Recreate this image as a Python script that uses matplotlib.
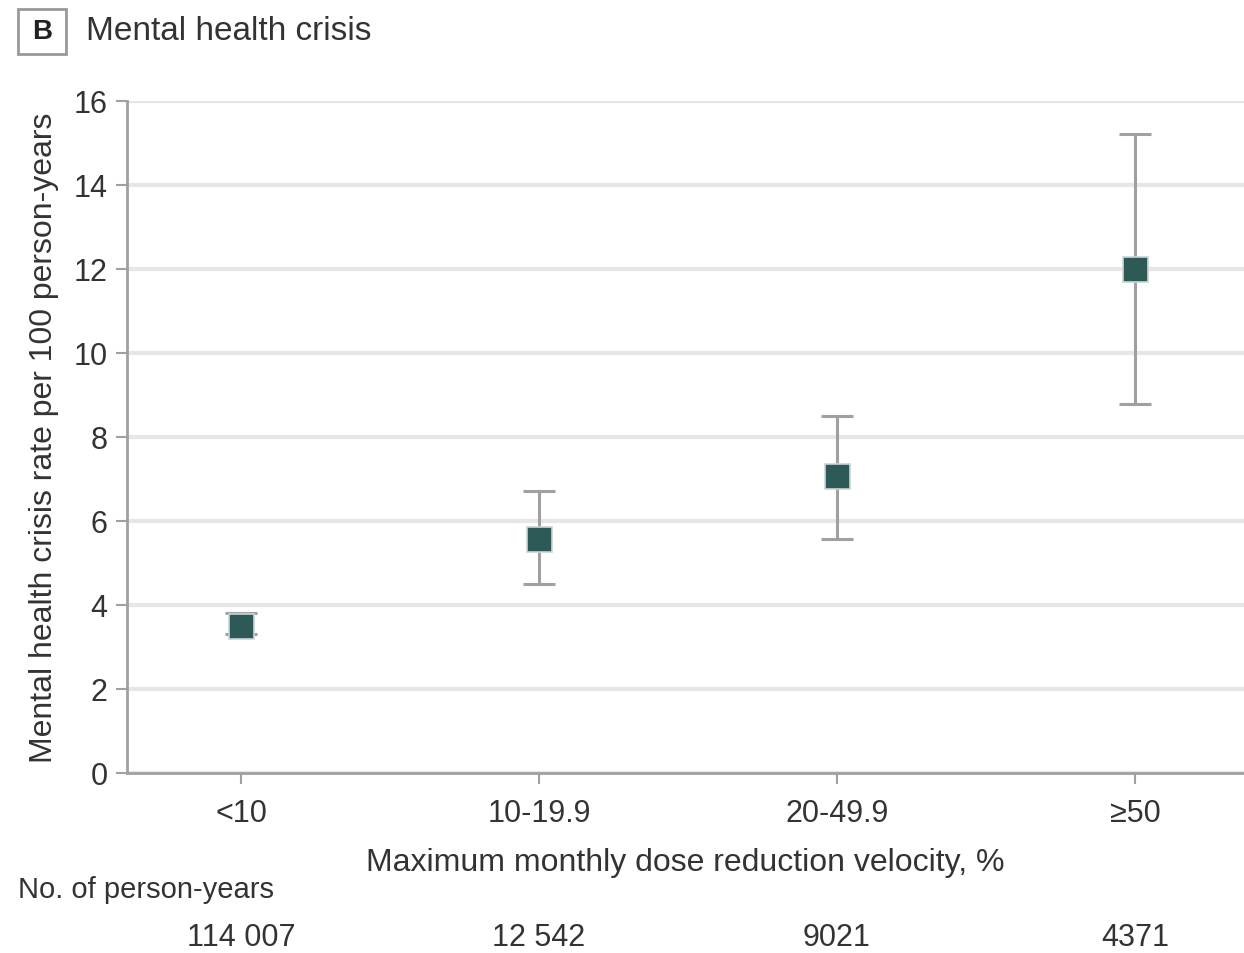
import numpy as np
import matplotlib.pyplot as plt
from matplotlib.patches import Rectangle

plt.rcParams['font.family'] = ['Liberation Sans Narrow', 'Liberation Sans', 'DejaVu Sans']

# data
categories = ['<10', '10-19.9', '20-49.9', '≥50']
rate = [3.5, 5.57, 7.07, 12.0]
ci_low = [3.3, 4.5, 5.57, 8.79]
ci_high = [3.8, 6.71, 8.5, 15.21]
person_years = ['114 007', '12 542', '9021', '4371']

box_col = '#2d5a56'
grid_col = '#e6e6e6'
axis_col = '#a0a0a0'
text_col = '#333333'

fig = plt.figure(figsize=(12.44, 9.54), dpi=100)
ax = fig.add_axes([0.102, 0.1887, 0.898, 0.7044])

x = np.arange(len(categories))
rate = np.array(rate)
err = [rate - np.array(ci_low), np.array(ci_high) - rate]
ax.errorbar(x, rate, yerr=err, fmt='none', ecolor='#a0a0a0', elinewidth=2.2,
            capsize=11.5, capthick=2.2, zorder=3)
ax.plot(x, rate, 's', ms=18, color=box_col, mec='#c8d6d4', mew=1.2, zorder=4)

ax.set_xlim(-0.383, 3.366)
ax.set_ylim(0, 16)
ax.set_yticks(np.arange(0, 17, 2))
ax.set_xticks(x)
ax.set_xticklabels(categories)
ax.yaxis.grid(True, color=grid_col, lw=3)
ax.set_axisbelow(True)
for s in ['top', 'right']:
    ax.spines[s].set_visible(False)
for s in ['left', 'bottom']:
    ax.spines[s].set_color(axis_col)
    ax.spines[s].set_linewidth(2)
ax.tick_params(axis='both', colors=axis_col, width=1.5, length=8,
               labelsize=22, labelcolor=text_col, pad=6)
ax.tick_params(axis='x', pad=10)

ax.set_ylabel('Mental health crisis rate per 100 person-years', fontsize=23,
              color=text_col, labelpad=10)
ax.set_xlabel('Maximum monthly dose reduction velocity, %', fontsize=23,
              color=text_col, labelpad=14)

# title with panel letter box
fig.patches.append(Rectangle((18 / 1244, 1 - 55 / 954), 48 / 1244, 45 / 954,
                             transform=fig.transFigure, fill=False,
                             ec='#999999', lw=2))
fig.text(42 / 1244, 1 - 32 / 954, 'B', ha='center', va='center', fontsize=20,
         fontweight='bold', color='#222222')
fig.text(86 / 1244, 1 - 32 / 954, 'Mental health crisis', ha='left', va='center',
         fontsize=24, color=text_col)

# person-years row
fig.text(18 / 1244, 1 - 890 / 954, 'No. of person-years', ha='left', va='center',
         fontsize=21, color=text_col)
for xi, py in zip(x, person_years):
    fx = ax.transData.transform((xi, 0))[0] / fig.bbox.width
    fig.text(fx, 1 - 938 / 954, py, ha='center', va='center', fontsize=22,
             color=text_col)

fig.savefig('out.png', dpi=100)
